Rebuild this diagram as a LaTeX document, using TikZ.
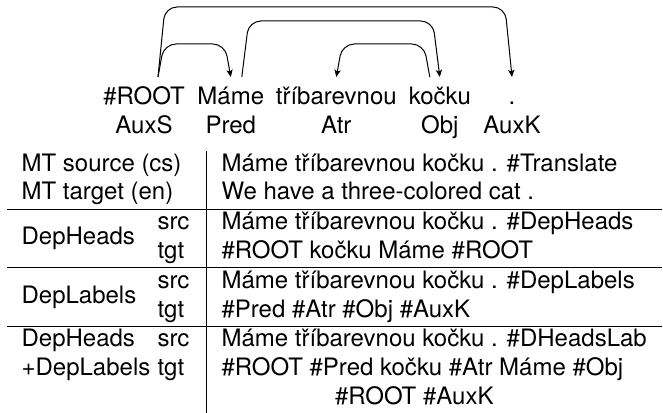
\documentclass[tikz,border=0pt]{standalone}
\usepackage{fontspec}
\setmainfont{TeX Gyre Heros}
\usetikzlibrary{calc,arrows.meta}
\begin{document}
\begin{tikzpicture}[x=0.41667pt,y=-0.41667pt,
  txt/.style={inner sep=0pt,outer sep=0pt,font=\fontsize{10pt}{12pt}\selectfont},
  lt/.style={txt,anchor=base west},
  word/.style={txt,anchor=base},
  dep/.style={line width=0.42pt,rounded corners=5pt,-{Stealth[length=3pt,width=2.6pt,inset=0.7pt]}},
  rule/.style={line width=0.42pt}]
\useasboundingbox (0,0) rectangle (663,413);
% dependency tree
\node[word] (w1) at (144,105) {\#ROOT};
\node[word] (w2) at (230.8,105) {Máme};
\node[word] (w3) at (336.3,105) {tříbarevnou};
\node[word] (w4) at (439.8,105) {kočku};
\node[word] (w5) at (512,105) {.};
\node[word] (l1) at (144,133.8) {AuxS};
\node[word] (l2) at (230.8,133.8) {Pred};
\node[word] (l3) at (336.3,133.8) {Atr};
\node[word] (l4) at (439.8,133.8) {Obj};
\node[word] (l5) at (512,133.8) {AuxK};
\coordinate (s1) at ($(w1.base)+(14,-28)$);
\draw[dep] (s1) -- ($(w1.base)+(20,-61)$) -- ($(w2.base)+(-6,-61)$) -- ($(w2.base)+(0,-28)$);
\draw[dep] (s1) -- ($(w1.base)+(21,-98)$) -- ($(w5.base)+(-7,-98)$) -- ($(w5.base)+(0,-28)$);
\draw[dep] ($(w2.base)+(11,-28)$) -- ($(w2.base)+(18,-84)$) -- ($(w4.base)+(-7,-84)$) -- ($(w4.base)+(0,-28)$);
\draw[dep] ($(w4.base)+(-10,-28)$) -- ($(w4.base)+(-16,-61)$) -- ($(w3.base)+(6,-61)$) -- ($(w3.base)+(0,-28)$);
% table rules
\coordinate (vt) at (206.7,151);
\coordinate (vb) at (206.7,413);
\draw[rule] (vt) -- (vb);
\coordinate (h1a) at (7,209.1); \coordinate (h1b) at (662,209.1);
\coordinate (h2a) at (7,267.7); \coordinate (h2b) at (662,267.7);
\coordinate (h3a) at (7,326.3); \coordinate (h3b) at (662,326.3);
\draw[rule] (h1a) -- (h1b);
\draw[rule] (h2a) -- (h2b);
\draw[rule] (h3a) -- (h3b);
% left column
\node[lt] (a1) at (21.6,171.2) {MT source (cs)};
\node[lt] (a2) at (21.6,200) {MT target (en)};
\node[lt] (a3) at (21.6,245) {DepHeads};
\node[lt] (b3) at (157.5,229.8) {src};
\node[lt] (b4) at (157.5,258.6) {tgt};
\node[lt] (a5) at (21.6,303.6) {DepLabels};
\node[lt] (b5) at (157.5,288.4) {src};
\node[lt] (b6) at (157.5,317.2) {tgt};
\node[lt] (a7) at (21.6,347) {DepHeads};
\node[lt] (b7) at (157.5,347) {src};
\node[lt] (a8) at (21.6,375.8) {+DepLabels};
\node[lt] (b8) at (157.5,375.8) {tgt};
% right column
\node[lt] (c1) at (221.6,171.2) {Máme tříbarevnou kočku . \#Translate};
\node[lt] (c2) at (221.6,200) {We have a three-colored cat .};
\node[lt] (c3) at (221.6,229.8) {Máme tříbarevnou kočku . \#DepHeads};
\node[lt] (c4) at (221.6,258.6) {\#ROOT kočku Máme \#ROOT};
\node[lt] (c5) at (221.6,288.4) {Máme tříbarevnou kočku . \#DepLabels};
\node[lt] (c6) at (221.6,317.2) {\#Pred \#Atr \#Obj \#AuxK};
\node[lt] (c7) at (221.6,347) {Máme tříbarevnou kočku . \#DHeadsLab};
\node[lt] (c8) at (221.6,375.8) {\#ROOT \#Pred kočku \#Atr Máme \#Obj};
\node[lt] (c9) at (335,404.6) {\#ROOT \#AuxK};
\end{tikzpicture}
\end{document}
